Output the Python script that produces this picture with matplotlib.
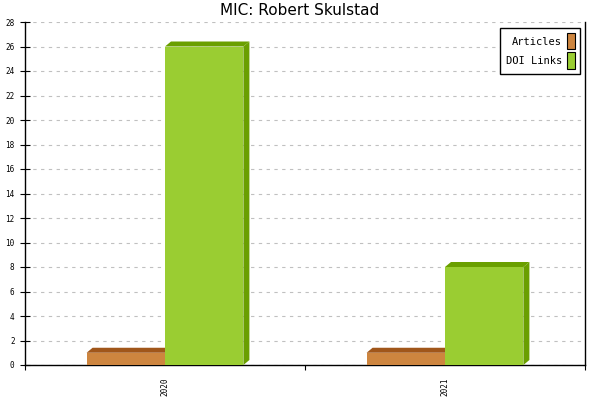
import matplotlib
matplotlib.use("Agg")
import matplotlib.pyplot as plt
from matplotlib.patches import Polygon, Patch
import numpy as np

years = ["2020", "2021"]
articles = [1, 1]
doi_links = [26, 8]

series = [
    ("Articles", articles, "#cd853f", "#a0561a"),
    ("DOI Links", doi_links, "#9acd32", "#6a9f00"),
]

fig = plt.figure(figsize=(6, 4), dpi=100)
ax = fig.add_axes([25 / 600, 35 / 400, 560 / 600, 343 / 400])

ax.set_xlim(0, 2)
ax.set_ylim(0, 28)

bar_w = 0.28
# depth of the fake 3d effect, in data units (about 6 px right, 5 px up)
dx = 6 / 280
dy = 5 / (343 / 28)

centers = np.arange(len(years)) + 0.5
for i, (name, vals, front, dark) in enumerate(series):
    for c, v in zip(centers, vals):
        x0 = c - bar_w + i * bar_w
        x1 = x0 + bar_w
        top = Polygon([(x0, v), (x0 + dx, v + dy), (x1 + dx, v + dy), (x1, v)],
                      closed=True, facecolor=dark, edgecolor="none", zorder=3 + i)
        side = Polygon([(x1, v), (x1 + dx, v + dy), (x1 + dx, dy), (x1, 0)],
                       closed=True, facecolor=dark, edgecolor="none", zorder=3 + i)
        ax.add_patch(top)
        ax.add_patch(side)
    ax.bar(centers - bar_w / 2 + i * bar_w, vals, width=bar_w, color=front,
           edgecolor="none", zorder=3 + i)

ax.set_yticks(np.arange(0, 29, 2))
ax.yaxis.grid(True, linestyle=(0, (3, 4)), color="#c0c0c0", linewidth=0.8)
ax.set_axisbelow(True)

ax.set_xticks([0, 1, 2])
ax.set_xticklabels([])
ax.set_xticks(centers, minor=True)
ax.set_xticklabels(years, minor=True, rotation=90, family="DejaVu Sans Mono",
                   fontsize=5.5)
ax.tick_params(axis="x", which="major", direction="out", length=3.6, width=0.8)
ax.tick_params(axis="x", which="minor", length=0, pad=9)
ax.tick_params(axis="y", direction="inout", length=7, width=0.8, pad=4)
for lab in ax.get_yticklabels():
    lab.set_family("DejaVu Sans Mono")
    lab.set_fontsize(5.5)

ax.spines["top"].set_visible(False)
for s in ["left", "right", "bottom"]:
    ax.spines[s].set_linewidth(1)

handles = [Patch(facecolor=f, edgecolor="black", linewidth=0.8, label=n)
           for n, _, f, _ in series]
leg = ax.legend(handles=handles, loc="upper right", markerfirst=False,
                prop={"family": "DejaVu Sans Mono", "size": 7.5},
                handlelength=0.75, handleheight=2.0, handletextpad=0.5,
                labelspacing=0.3, borderpad=0.5, borderaxespad=0,
                fancybox=False, framealpha=1, edgecolor="black",
                bbox_to_anchor=(555 / 560, 337 / 343))
leg.get_frame().set_linewidth(1)

fig.suptitle("MIC: Robert Skulstad", fontsize=11, y=0.993)

fig.savefig("out.png", dpi=100)
